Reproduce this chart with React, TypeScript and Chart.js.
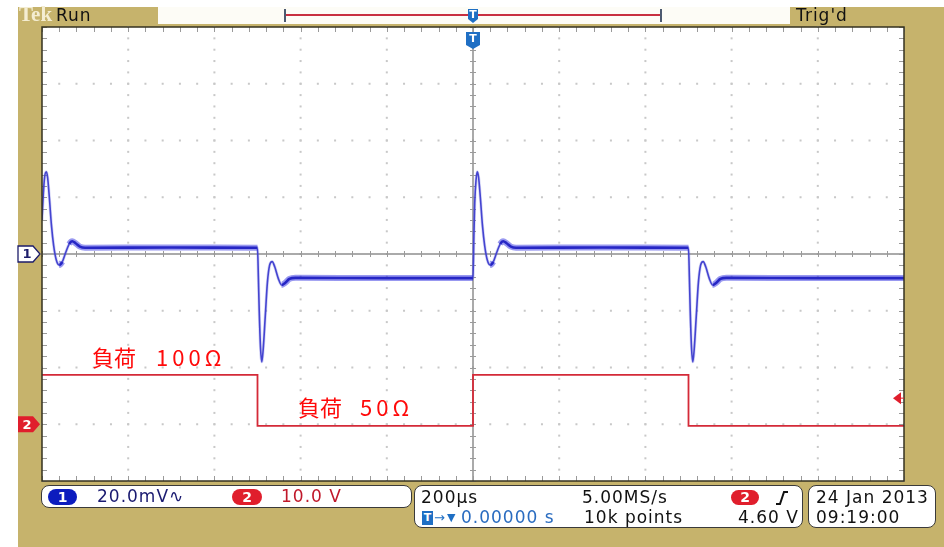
import React, { useEffect, useRef } from "react";
import { Chart, registerables } from "chart.js";

Chart.register(...registerables);

// ---- data ----
const xTicksUs = [-1000, -800, -600, -400, -200, 0, 200, 400, 600, 800, 1000];
const yTicksDiv = [-4, -3, -2, -1, 0, 1, 2, 3, 4];
const ch1MvPerDiv = 20;
const ch2VoltsPerDiv = 10;
const ch2OffsetDiv = -3;
const triggerLevelV = 4.6;

const ch1TimeUs = [
  -1000, -997, -994, -990, -987, -983, -978, -973, -967, -960, -953, -945, -937, -930, -922, -912, -900, -700, -502,
  -500, -498, -496, -493, -490, -487, -482, -477, -472, -466, -460, -452, -444, -436, -426, -412, -200, -2,
  0, 2, 4, 7, 10, 13, 17, 22, 27, 33, 40, 47, 55, 63, 70, 78, 88, 100, 300, 498,
  500, 502, 504, 507, 510, 513, 518, 523, 528, 534, 540, 548, 556, 564, 574, 588, 800, 1000,
];
const ch1Mv = [
  12, 21, 27, 29, 27, 20, 10, 3, -2, -3.9, -2.8, 0.5, 3.5, 4.5, 3.8, 2.6, 2.2, 2.3, 2.2,
  2.2, -8, -20, -33, -38, -34, -22, -10, -4, -2.7, -4.5, -8.5, -10.9, -10.2, -8.8, -8.4, -8.5, -8.5,
  -8.5, 6, 18, 26, 29, 27, 20, 10, 3, -2, -3.9, -2.8, 0.5, 3.5, 4.5, 3.8, 2.6, 2.2, 2.3, 2.2,
  2.2, -8, -20, -33, -38, -34, -22, -10, -4, -2.7, -4.5, -8.5, -10.9, -10.2, -8.8, -8.4, -8.5, -8.5,
];

const ch2TimeUs = [-1000, -500, -500, 0, 0, 500, 500, 1000];
const ch2Volts = [8.7, 8.7, -0.3, -0.3, 8.7, 8.7, -0.3, -0.3];

const TAN = "#c6b36c";

function isFlat(ctx: any) {
  const dx = Math.abs(ctx.p1.parsed.x - ctx.p0.parsed.x);
  const dy = Math.abs(ctx.p1.parsed.y - ctx.p0.parsed.y) * ch1MvPerDiv;
  return dx > 0 && dy / dx < 0.2;
}

const scopePlugin = {
  id: "scope",
  beforeDatasetsDraw(chart: any) {
    const { ctx, chartArea: a, scales } = chart;
    const x = scales.x;
    const y = scales.y;
    ctx.save();
    ctx.fillStyle = "#ffffff";
    ctx.fillRect(a.left, a.top, a.right - a.left, a.bottom - a.top);
    // dotted graticule
    ctx.fillStyle = "#c8c8c8";
    const stepX = (xTicksUs[1] - xTicksUs[0]) / 5;
    for (let i = 1; i < xTicksUs.length - 1; i++) {
      if (xTicksUs[i] === 0) continue;
      const px = x.getPixelForValue(xTicksUs[i]);
      for (let k = 0; k <= 40; k++) {
        const py = y.getPixelForValue(-4 + k * 0.2);
        ctx.fillRect(px - 1, py - 1, 2, 2);
      }
    }
    for (let j = 1; j < yTicksDiv.length - 1; j++) {
      if (yTicksDiv[j] === 0) continue;
      const py = y.getPixelForValue(yTicksDiv[j]);
      for (let k = 0; k <= 50; k++) {
        const px = x.getPixelForValue(-1000 + k * stepX);
        ctx.fillRect(px - 1, py - 1, 2, 2);
      }
    }
    // center cross
    const cx = x.getPixelForValue(0);
    const cy = y.getPixelForValue(0);
    ctx.strokeStyle = "#8e8e8e";
    ctx.lineWidth = 1.5;
    ctx.beginPath();
    ctx.moveTo(a.left, cy);
    ctx.lineTo(a.right, cy);
    ctx.moveTo(cx, a.top);
    ctx.lineTo(cx, a.bottom);
    ctx.stroke();
    ctx.lineWidth = 1;
    ctx.strokeStyle = "#9a9a9a";
    ctx.beginPath();
    for (let k = 0; k <= 50; k++) {
      const px = Math.round(x.getPixelForValue(-1000 + k * stepX)) + 0.5;
      ctx.moveTo(px, cy - 3);
      ctx.lineTo(px, cy + 3);
      ctx.moveTo(px, a.top);
      ctx.lineTo(px, a.top + 5);
      ctx.moveTo(px, a.bottom);
      ctx.lineTo(px, a.bottom - 5);
    }
    for (let k = 0; k <= 40; k++) {
      const py = Math.round(y.getPixelForValue(-4 + k * 0.2)) + 0.5;
      ctx.moveTo(cx - 3, py);
      ctx.lineTo(cx + 3, py);
      ctx.moveTo(a.left, py);
      ctx.lineTo(a.left + 5, py);
      ctx.moveTo(a.right, py);
      ctx.lineTo(a.right - 5, py);
    }
    ctx.stroke();
    ctx.restore();
  },
  afterDraw(chart: any) {
    const { ctx, chartArea: a, scales } = chart;
    const x = scales.x;
    const y = scales.y;
    ctx.save();
    // frame
    ctx.strokeStyle = "#34321f";
    ctx.lineWidth = 1.5;
    ctx.strokeRect(a.left, a.top, a.right - a.left, a.bottom - a.top);

    // ch1 marker
    const y1 = y.getPixelForValue(0);
    ctx.beginPath();
    ctx.moveTo(18, y1 - 8);
    ctx.lineTo(33, y1 - 8);
    ctx.lineTo(40, y1);
    ctx.lineTo(33, y1 + 8);
    ctx.lineTo(18, y1 + 8);
    ctx.closePath();
    ctx.fillStyle = "#ffffff";
    ctx.fill();
    ctx.strokeStyle = "#1c1c6a";
    ctx.lineWidth = 1.3;
    ctx.stroke();
    ctx.fillStyle = "#1c1c6a";
    ctx.font = "bold 13px 'DejaVu Sans'";
    ctx.textAlign = "center";
    ctx.textBaseline = "middle";
    ctx.fillText("1", 27, y1 + 1);

    // ch2 marker
    const y2 = y.getPixelForValue(ch2OffsetDiv);
    ctx.beginPath();
    ctx.moveTo(18, y2 - 8);
    ctx.lineTo(33, y2 - 8);
    ctx.lineTo(40, y2);
    ctx.lineTo(33, y2 + 8);
    ctx.lineTo(18, y2 + 8);
    ctx.closePath();
    ctx.fillStyle = "#e01e2c";
    ctx.fill();
    ctx.fillStyle = "#ffffff";
    ctx.fillText("2", 27, y2 + 1);

    // trigger position markers
    const tx = x.getPixelForValue(0);
    const drawT = (top: number, h: number, w: number) => {
      ctx.beginPath();
      ctx.moveTo(tx - w / 2, top);
      ctx.lineTo(tx + w / 2, top);
      ctx.lineTo(tx + w / 2, top + h);
      ctx.lineTo(tx, top + h + 4);
      ctx.lineTo(tx - w / 2, top + h);
      ctx.closePath();
      ctx.fillStyle = "#1f6fc4";
      ctx.fill();
      ctx.fillStyle = "#ffffff";
      ctx.font = "bold 11px 'DejaVu Sans'";
      ctx.fillText("T", tx, top + h / 2 + 1);
    };
    drawT(9, 10, 10);
    drawT(32, 13, 14);

    // trigger level arrow
    const yt = y.getPixelForValue(ch2OffsetDiv + triggerLevelV / ch2VoltsPerDiv);
    ctx.beginPath();
    ctx.moveTo(a.right - 11, yt);
    ctx.lineTo(a.right - 3, yt - 6);
    ctx.lineTo(a.right - 3, yt + 6);
    ctx.closePath();
    ctx.fillStyle = "#e01e2c";
    ctx.fill();
    ctx.strokeStyle = "#e01e2c";
    ctx.lineWidth = 1;
    ctx.beginPath();
    ctx.moveTo(a.right - 4, yt);
    ctx.lineTo(a.right, yt);
    ctx.stroke();
    ctx.restore();
  },
};

const Txt = (p: { x: number; y: number; s?: number; c?: string; ls?: number; w?: string; f?: string; children: any }) => (
  <div
    style={{
      position: "absolute",
      left: p.x,
      top: p.y,
      fontSize: p.s ?? 17,
      lineHeight: 1,
      color: p.c ?? "#111",
      letterSpacing: p.ls ?? 1,
      fontWeight: (p.w as any) ?? "normal",
      fontFamily: p.f ?? "'DejaVu Sans', sans-serif",
      whiteSpace: "nowrap",
    }}
  >
    {p.children}
  </div>
);

const Pill = (p: { x: number; y: number; w: number; h: number; bg: string; label: string }) => (
  <div
    style={{
      position: "absolute",
      left: p.x,
      top: p.y,
      width: p.w,
      height: p.h,
      borderRadius: p.h / 2,
      background: p.bg,
      color: "#fff",
      fontFamily: "'DejaVu Sans', sans-serif",
      fontWeight: "bold",
      fontSize: 14,
      lineHeight: p.h + "px",
      textAlign: "center",
    }}
  >
    {p.label}
  </div>
);

const boxStyle = (l: number, t: number, w: number, h: number): React.CSSProperties => ({
  position: "absolute",
  left: l,
  top: t,
  width: w,
  height: h,
  boxSizing: "border-box",
  border: "1.5px solid #3a3a3a",
  borderRadius: 8,
  background: "#ffffff",
});

export default function App() {
  const ref = useRef<HTMLCanvasElement>(null);
  useEffect(() => {
    const ch1 = ch1TimeUs.map((t, i) => ({ x: t, y: ch1Mv[i] / ch1MvPerDiv }));
    const ch2 = ch2TimeUs.map((t, i) => ({ x: t, y: ch2OffsetDiv + ch2Volts[i] / ch2VoltsPerDiv }));
    const chart = new Chart(ref.current as HTMLCanvasElement, {
      type: "line",
      data: {
        datasets: [
          {
            label: "CH2",
            data: ch2,
            borderColor: "#d42a38",
            borderWidth: 1.8,
            pointRadius: 0,
            tension: 0,
          },
          {
            label: "CH1 band",
            data: ch1,
            borderWidth: 6,
            pointRadius: 0,
            cubicInterpolationMode: "monotone",
            borderColor: "rgba(50,50,225,0.5)",
            segment: {
              borderColor: (c: any) => (isFlat(c) ? "rgba(50,50,225,0.5)" : "rgba(80,80,220,0.25)"),
              borderWidth: (c: any) => (isFlat(c) ? 6 : 3),
            },
          },
          {
            label: "CH1",
            data: ch1,
            borderWidth: 2.5,
            pointRadius: 0,
            cubicInterpolationMode: "monotone",
            borderColor: "#1a1aa8",
            segment: {
              borderColor: (c: any) => (isFlat(c) ? "#1a1aa8" : "#4040cc"),
              borderWidth: (c: any) => (isFlat(c) ? 2.6 : 1.6),
            },
          },
        ] as any,
      },
      options: {
        animation: false,
        responsive: false,
        devicePixelRatio: 1,
        layout: { padding: { left: 42, top: 27, right: 40, bottom: 66 } },
        plugins: { legend: { display: false }, tooltip: { enabled: false } },
        scales: {
          x: { type: "linear", display: false, min: -1000, max: 1000 },
          y: { type: "linear", display: false, min: -4, max: 4 },
        },
      },
      plugins: [scopePlugin],
    });
    return () => chart.destroy();
  }, []);

  return (
    <div
      style={{
        position: "fixed",
        left: 0,
        top: 0,
        width: 944,
        height: 547,
        background: "#ffffff",
        overflow: "hidden",
      }}
    >
      <div style={{ position: "absolute", left: 18, top: 7, width: 926, height: 540, background: TAN }} />
      {/* top record bar */}
      <div style={{ position: "absolute", left: 158, top: 7, width: 632, height: 17, background: "#fdfcf6" }} />
      <div style={{ position: "absolute", left: 285, top: 14, width: 376, height: 1.5, background: "#c83040" }} />
      <div style={{ position: "absolute", left: 284, top: 9, width: 2, height: 13, background: "#4d5a70" }} />
      <div style={{ position: "absolute", left: 660, top: 9, width: 2, height: 13, background: "#4d5a70" }} />
      <canvas ref={ref} width={944} height={547} style={{ position: "absolute", left: 0, top: 0, width: 944, height: 547 }} />

      <Txt x={19} y={4} s={21} c="#f4edd2" w="bold" f="'Liberation Serif', serif" ls={0}>Tek</Txt>
      <Txt x={56} y={7} s={17}>Run</Txt>
      <Txt x={796} y={7} s={17}>Trig'd</Txt>

      {/* annotations */}
      <div style={{ position: "absolute", left: 92, top: 345, fontFamily: "'Noto Sans CJK JP', sans-serif", fontSize: 22, lineHeight: "22px", color: "#ff0a0a", whiteSpace: "nowrap" }}>
        負荷<span style={{ marginLeft: 20, letterSpacing: 4 }}>100Ω</span>
      </div>
      <div style={{ position: "absolute", left: 298, top: 395, fontFamily: "'Noto Sans CJK JP', sans-serif", fontSize: 22, lineHeight: "22px", color: "#ff0a0a", whiteSpace: "nowrap" }}>
        負荷<span style={{ marginLeft: 18, letterSpacing: 4 }}>50Ω</span>
      </div>

      {/* bottom boxes */}
      <div style={boxStyle(41, 485, 371, 23)} />
      <div style={boxStyle(414, 485, 389, 43)} />
      <div style={boxStyle(808, 485, 128, 43)} />

      <Pill x={48} y={489} w={29} h={16} bg="#0c1cbe" label="1" />
      <Txt x={97} y={488} c="#1a1a70">20.0mV∿</Txt>
      <Pill x={232} y={489} w={30} h={16} bg="#e01e2c" label="2" />
      <Txt x={281} y={488} c="#c0182a">10.0 V</Txt>

      <Txt x={421} y={489}>200µs</Txt>
      <Txt x={582} y={489}>5.00MS/s</Txt>
      <Pill x={731} y={490} w={28} h={15} bg="#e01e2c" label="2" />
      <svg style={{ position: "absolute", left: 775, top: 491 }} width={14} height={14}>
        <polyline points="1,13 5,13 9,1 13,1" fill="none" stroke="#111" strokeWidth={2} />
      </svg>
      <div style={{ position: "absolute", left: 422, top: 511, width: 11, height: 14, background: "#1f6fc4", color: "#fff", fontFamily: "'DejaVu Sans', sans-serif", fontWeight: "bold", fontSize: 11, lineHeight: "14px", textAlign: "center" }}>T</div>
      <Txt x={434} y={511} s={13} c="#1f6fc4" ls={0}>→</Txt>
      <Txt x={447} y={512} s={11} c="#1f6fc4" ls={0}>▼</Txt>
      <Txt x={461} y={509} c="#2a6cc0">0.00000 s</Txt>
      <Txt x={584} y={509}>10k points</Txt>
      <Txt x={738} y={509}>4.60 V</Txt>

      <Txt x={816} y={489}>24 Jan  2013</Txt>
      <Txt x={816} y={509}>09:19:00</Txt>
    </div>
  );
}
